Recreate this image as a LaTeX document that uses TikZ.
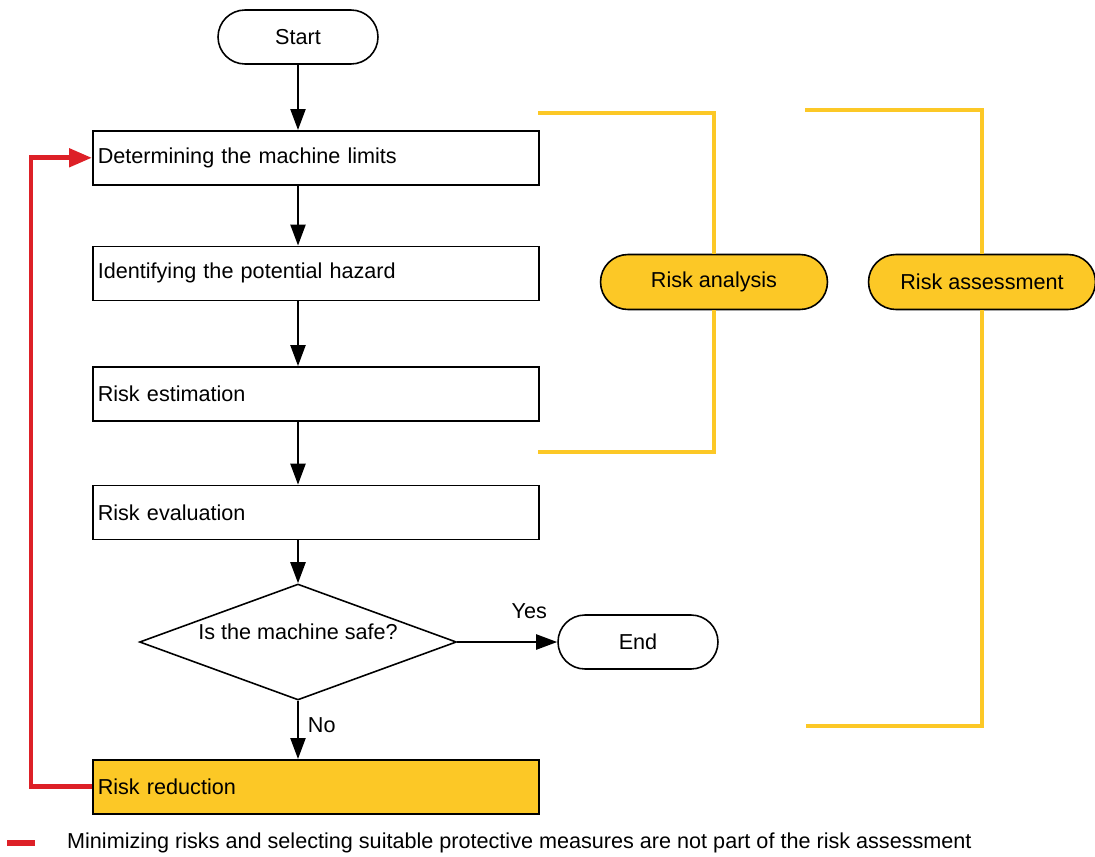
\documentclass[tikz,border=0pt]{standalone}
\usepackage{fontspec}
\setmainfont{Liberation Sans}
\usetikzlibrary{arrows.meta,positioning,calc,shapes.geometric}
\definecolor{RiskYellow}{RGB}{252,200,38}
\definecolor{LoopRed}{RGB}{221,32,39}
\tikzset{
  stepbox/.style={draw=black, line width=0.9pt, fill=#1, align=left, text width=8.72cm,
    minimum height=1.08cm, font=\fontsize{12.3}{14}\selectfont, inner xsep=0.1cm, inner ysep=3pt},
  stepbox/.default=white,
  termbox/.style={draw=black, line width=0.9pt, rounded corners=0.54cm, fill=white,
    minimum width=3.2cm, minimum height=1.08cm, font=\fontsize{12.3}{14}\selectfont},
  pillbox/.style={draw=black, line width=0.9pt, rounded corners=0.55cm, fill=RiskYellow,
    minimum width=4.54cm, minimum height=1.1cm, font=\fontsize{12.3}{14}\selectfont},
  decisionbox/.style={diamond, draw=black, line width=0.9pt, aspect=2.73, inner sep=0pt,
    minimum width=6.34cm, minimum height=2.32cm, text height=0.35cm, text depth=0.44cm,
    font=\fontsize{12.3}{14}\selectfont},
  notetext/.style={font=\fontsize{12.3}{14}\selectfont, inner sep=0.14cm, text=black},
  % ---- conectores ----
  flowarr/.style={-{Triangle[length=0.42cm, width=0.3cm]}, line width=1.3pt, black},
  looparr/.style={-{Triangle[length=0.46cm, width=0.36cm]}, line width=2.8pt, LoopRed},
  bracketline/.style={line width=2.8pt, RiskYellow},
}
\begin{document}
\begin{tikzpicture}[x=0.02cm, y=-0.02cm]
    \useasboundingbox (0,0) rectangle (1095,856);
    \node[termbox] (start) at (298,37) {Start};
    \node[stepbox, anchor=north west] (limits) at (92,130) {Determining the machine limits};
    \node[stepbox, below=1.2cm of limits] (hazard) {Identifying the potential hazard};
    \node[stepbox, below=1.3cm of hazard] (estim) {Risk estimation};
    \node[stepbox, below=1.26cm of estim] (evalu) {Risk evaluation};
    \node[decisionbox] (safe) at (298,642) {Is the machine safe?};
    \node[termbox] (end) at (638,642) {End};
    \node[stepbox=RiskYellow, anchor=north west] (reduce) at (92,759) {Risk reduction};
    \node[pillbox] (analysis) at (714,282) {Risk analysis};
    \node[pillbox] (assess) at (982,282) {Risk assessment};
    \draw[flowarr] (start) -- (start |- limits.north);
    \draw[flowarr] (start |- limits.south) -- (start |- hazard.north);
    \draw[flowarr] (start |- hazard.south) -- (start |- estim.north);
    \draw[flowarr] (start |- estim.south) -- (start |- evalu.north);
    \draw[flowarr] (start |- evalu.south) -- (safe.north);
    \draw[flowarr] (safe.east) -- (end.west) node[notetext, pos=0.72, above=0.3cm] (yes) {Yes};
    \draw[flowarr] (safe.south) -- (safe.south |- reduce.north) node[notetext, pos=0.42, right=1pt] (no) {No};
    \draw[looparr] (reduce.west) -- ++(-61,0) |- (limits.west);
    \coordinate (anatop) at (538,113);
    \coordinate (anabot) at (538,452);
    \draw[bracketline] (anatop) -| (analysis.north);
    \draw[bracketline] (analysis.south) |- (anabot);
    \coordinate (asstop) at (805,110);
    \coordinate (assbot) at (806,726);
    \draw[bracketline] (asstop) -| (assess.north);
    \draw[bracketline] (assess.south) |- (assbot);
    \coordinate (key) at (7,843);
    \draw[LoopRed, line width=3.6pt] (key) -- ++(28,0)
      node[notetext, right=0.44cm] (keytext) {Minimizing risks and selecting suitable protective measures are not part of the risk assessment};
  \end{tikzpicture}
\end{document}
